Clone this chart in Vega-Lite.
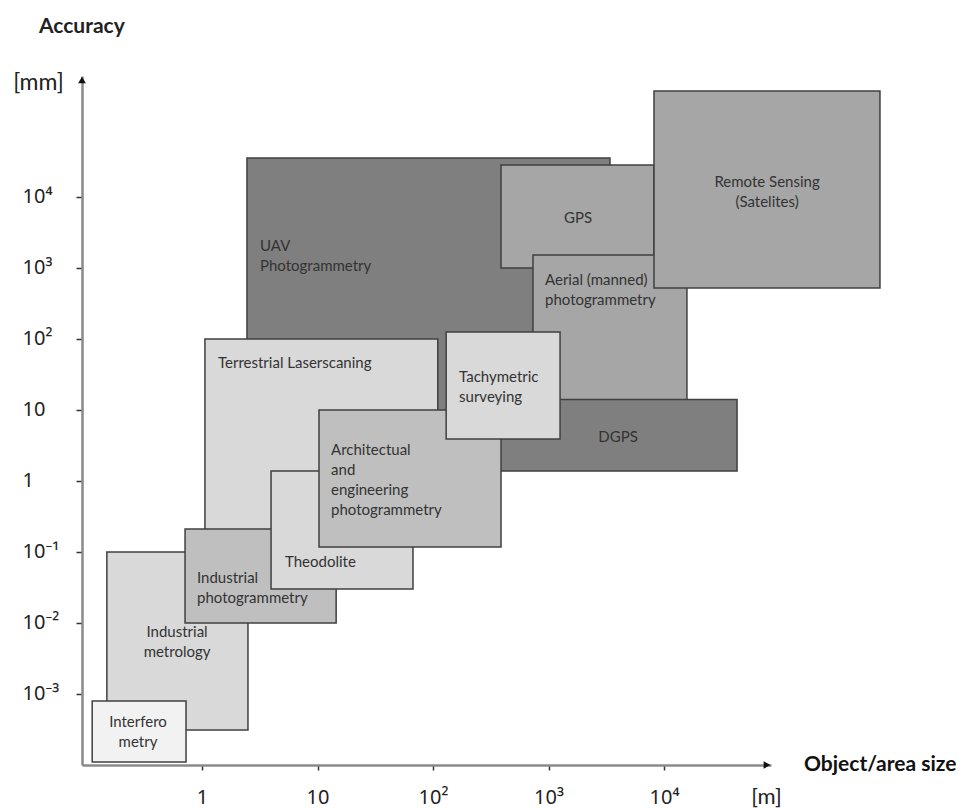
{
  "$schema": "https://vega.github.io/schema/vega-lite/v6.json",
  "autosize": "none",
  "width": 689,
  "height": 689,
  "padding": {"left": 82, "top": 76, "right": 193, "bottom": 43},
  "background": "white",
  "config": {"view": {"stroke": null}, "font": "Lato"},
  "title": {"text": "Accuracy", "anchor": "start", "frame": "group", "dx": -43, "offset": 13, "fontSize": 21, "fontWeight": "bold", "font": "Lato", "color": "#222", "baseline": "bottom"},
  "datasets": {
    "boxes": [
      {"name": "UAV Photogrammetry", "tone": "dark", "x1": 2.45, "x2": 3406, "y1": 5, "y2": 35400, "label": "UAV\nPhotogrammetry", "lx": 3.18, "ly": 2560, "just": "left"},
      {"name": "GPS", "tone": "mid", "x1": 388, "x2": 8190, "y1": 1000, "y2": 28200, "label": "GPS", "lx": 1800, "ly": 6350, "just": "center"},
      {"name": "Aerial (manned) photogrammetry", "tone": "mid", "x1": 734, "x2": 15800, "y1": 13.8, "y2": 1525, "label": "Aerial (manned)\nphotogrammetry", "lx": 933, "ly": 851, "just": "left"},
      {"name": "Remote Sensing (Satelites)", "tone": "mid", "x1": 8190, "x2": 741000, "y1": 523, "y2": 311000, "label": "Remote Sensing\n(Satelites)", "lx": 78000, "ly": 20400, "just": "center"},
      {"name": "DGPS", "tone": "dark", "x1": 209, "x2": 42900, "y1": 1.38, "y2": 14.0, "label": "DGPS", "lx": 4000, "ly": 5.23, "just": "center"},
      {"name": "Terrestrial Laserscaning", "tone": "light", "x1": 1.06, "x2": 110, "y1": 0.157, "y2": 100, "label": "Terrestrial Laserscaning", "lx": 1.376, "ly": 57.6, "just": "left"},
      {"name": "Industrial metrology", "tone": "light", "x1": 0.150, "x2": 2.50, "y1": 0.000311, "y2": 0.1, "label": "Industrial\nmetrology", "lx": 0.608, "ly": 0.00937, "just": "center"},
      {"name": "Interferometry", "tone": "lightest", "x1": 0.112, "x2": 0.727, "y1": 0.00011, "y2": 0.000796, "label": "Interfero\nmetry", "lx": 0.279, "ly": 0.000506, "just": "center"},
      {"name": "Industrial photogrammetry", "tone": "midlight", "x1": 0.713, "x2": 14.5, "y1": 0.01, "y2": 0.211, "label": "Industrial\nphotogrammetry", "lx": 0.905, "ly": 0.054, "just": "left"},
      {"name": "Theodolite", "tone": "light", "x1": 3.96, "x2": 67.1, "y1": 0.0301, "y2": 1.38, "label": "Theodolite", "lx": 5.23, "ly": 0.0908, "just": "left"},
      {"name": "Architectural and engineering photogrammetry", "tone": "midlight", "x1": 10.3, "x2": 388, "y1": 0.118, "y2": 10, "label": "Architectual\nand\nengineering\nphotogrammetry", "lx": 13.1, "ly": 3.43, "just": "left"},
      {"name": "Tachymetric surveying", "tone": "light", "x1": 130, "x2": 1259, "y1": 3.91, "y2": 125, "label": "Tachymetric\nsurveying", "lx": 168, "ly": 36.6, "just": "left"}
    ]
  },
  "data": {"name": "boxes"},
  "layer": [
    {
      "mark": {"type": "rect", "stroke": "#404040", "strokeWidth": 1.5},
      "encoding": {
        "x": {"field": "x1", "type": "quantitative",
              "scale": {"type": "log", "domain": [0.0914, 84400], "nice": false},
              "axis": {"values": [1, 10, 100, 1000, 10000],
                       "labelExpr": "datum.value < 5 ? '1' : datum.value < 50 ? '10' : datum.value < 500 ? '10²' : datum.value < 5000 ? '10³' : '10⁴'",
                       "grid": false, "domainColor": "#8a8a8a", "domainWidth": 2.5, "tickColor": "#333", "tickWidth": 1.5, "tickSize": 5,
                       "labelFont": "Noto Sans", "labelFontSize": 20, "labelColor": "#222", "labelBaseline": "middle", "labelPadding": 27,
                       "labelFlush": false, "labelOverlap": false,
                       "title": "[m]", "titleX": 684, "titleY": 31, "titleAlign": "center", "titleBaseline": "middle",
                       "titleFontWeight": "normal", "titleFontSize": 22, "titleFont": "Lato", "titleColor": "#222"}},
        "x2": {"field": "x2"},
        "y": {"field": "y1", "type": "quantitative",
              "scale": {"type": "log", "domain": [0.0001, 505800], "nice": false},
              "axis": {"values": [0.001, 0.01, 0.1, 1, 10, 100, 1000, 10000],
                       "labelExpr": "datum.value < 0.005 ? '10⁻³' : datum.value < 0.05 ? '10⁻²' : datum.value < 0.5 ? '10⁻¹' : datum.value < 5 ? '1' : datum.value < 50 ? '10' : datum.value < 500 ? '10²' : datum.value < 5000 ? '10³' : '10⁴'",
                       "grid": false, "domainColor": "#8a8a8a", "domainWidth": 2.5, "tickColor": "#333", "tickWidth": 1.5, "tickSize": 6,
                       "labelFont": "Noto Sans", "labelFontSize": 20, "labelColor": "#222", "labelAlign": "left", "labelBaseline": "middle", "labelPadding": 54,
                       "labelFlush": false, "labelOverlap": false,
                       "title": "[mm]", "titleAngle": 0, "titleX": -44, "titleY": 6, "titleAlign": "center", "titleBaseline": "middle",
                       "titleFontWeight": "normal", "titleFontSize": 23, "titleFont": "Lato", "titleColor": "#222"}},
        "y2": {"field": "y2"},
        "color": {"field": "tone", "type": "nominal",
                  "scale": {"domain": ["dark", "mid", "midlight", "light", "lightest"], "range": ["#7f7f7f", "#a6a6a6", "#bfbfbf", "#d9d9d9", "#f2f2f2"]},
                  "legend": null}
      }
    },
    {
      "transform": [{"filter": "datum.just == 'left'"}],
      "mark": {"type": "text", "align": "left", "baseline": "top", "lineBreak": "\n", "lineHeight": 20, "font": "Lato", "fontSize": 15, "color": "#333"},
      "encoding": {
        "x": {"field": "lx", "type": "quantitative", "scale": {"type": "log", "domain": [0.0914, 84400], "nice": false}},
        "y": {"field": "ly", "type": "quantitative", "scale": {"type": "log", "domain": [0.0001, 505800], "nice": false}},
        "text": {"field": "label"}
      }
    },
    {
      "transform": [{"filter": "datum.just == 'center'"}],
      "mark": {"type": "text", "align": "center", "baseline": "top", "lineBreak": "\n", "lineHeight": 20, "font": "Lato", "fontSize": 15, "color": "#333"},
      "encoding": {
        "x": {"field": "lx", "type": "quantitative", "scale": {"type": "log", "domain": [0.0914, 84400], "nice": false}},
        "y": {"field": "ly", "type": "quantitative", "scale": {"type": "log", "domain": [0.0001, 505800], "nice": false}},
        "text": {"field": "label"}
      }
    },
    {
      "data": {"values": [{}]},
      "mark": {"type": "point", "shape": "triangle-up", "filled": true, "size": 60, "color": "#111", "opacity": 1, "yOffset": 4},
      "encoding": {
        "x": {"datum": 0.0914, "type": "quantitative"},
        "y": {"datum": 505800, "type": "quantitative"}
      }
    },
    {
      "data": {"values": [{}]},
      "mark": {"type": "point", "shape": "triangle-right", "filled": true, "size": 60, "color": "#111", "opacity": 1, "xOffset": -4},
      "encoding": {
        "x": {"datum": 84400, "type": "quantitative"},
        "y": {"datum": 0.0001, "type": "quantitative"}
      }
    },
    {
      "data": {"values": [{}]},
      "mark": {"type": "text", "text": "Object/area size", "align": "left", "baseline": "middle", "dx": 33, "font": "Lato", "fontSize": 21, "fontWeight": "bold", "color": "#111"},
      "encoding": {
        "x": {"datum": 84400, "type": "quantitative"},
        "y": {"datum": 0.0001, "type": "quantitative"}
      }
    }
  ]
}
